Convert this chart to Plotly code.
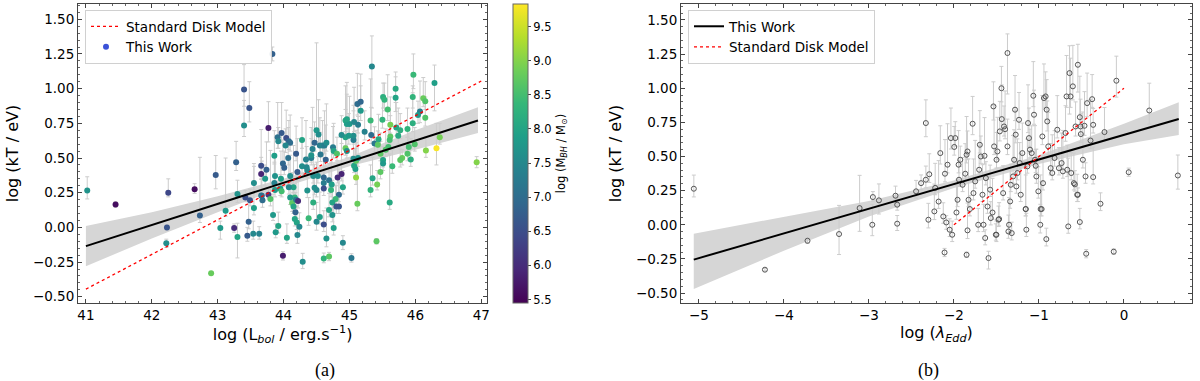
import plotly.graph_objects as go

# ---- panel (a): kT vs bolometric luminosity, coloured by black-hole mass ----
lbol = [41.02, 41.45, 42.25, 42.65, 42.23, 42.22, 42.73, 42.97, 42.90, 43.04,
        43.12, 43.25, 43.30, 43.30, 43.42, 43.49, 43.45, 43.47, 43.55, 43.54,
        43.63, 43.66, 43.68, 43.77, 43.80, 43.84, 43.88, 43.92, 43.99, 44.05,
        43.87, 44.13, 44.17, 44.15, 43.83, 43.40, 43.48, 43.40, 43.77, 43.28,
        43.66, 43.66, 43.74, 43.55, 43.67, 43.72, 43.91, 43.97, 44.04, 43.92,
        44.08, 44.10, 44.03, 44.28, 44.19, 43.86, 43.99, 44.07, 44.01, 43.87,
        43.96, 44.10, 44.21, 44.28, 44.35, 44.34, 44.42, 44.44, 44.42, 44.50,
        44.53, 44.47, 44.55, 44.59, 44.62, 44.65, 44.75, 44.76, 44.81, 44.94,
        44.96, 44.94, 44.88, 44.94, 44.56, 44.64, 44.36, 44.45, 44.52, 44.61,
        44.69, 44.61, 44.50, 44.61, 44.73, 44.82, 44.88, 44.90, 44.72, 44.84,
        44.79, 44.74, 44.84, 44.69, 44.74, 44.55, 44.50, 44.61, 44.76, 44.65,
        44.90, 44.69, 44.61, 44.29, 44.18, 44.15, 44.19, 44.22, 44.10, 44.17,
        44.20, 44.24, 44.21, 44.38, 44.45, 44.47, 44.36, 44.08, 43.95, 43.86,
        43.97, 45.34, 46.29, 45.97, 45.70, 45.70, 45.51, 45.53, 45.96, 46.12,
        46.15, 45.58, 45.32, 45.50, 45.62, 45.71, 45.77, 45.88, 45.96, 46.07,
        46.04, 46.15, 46.37, 46.32, 46.16, 46.93, 45.99, 45.90, 45.93, 45.88,
        45.80, 45.77, 45.74, 45.62, 45.61, 45.59, 45.55, 45.65, 45.51, 45.51,
        45.47, 45.47, 45.42, 45.35, 45.32, 45.61, 45.41, 45.03, 45.12, 45.10,
        45.09, 45.07, 45.10, 45.13, 45.06, 44.96, 45.06, 45.06, 44.99, 45.00,
        45.07, 45.13, 44.96, 45.12, 45.17, 45.17, 45.23, 45.33, 45.38, 45.44,
        45.43, 44.80]
kt_a = [0.265, 0.165, 0.25, 0.275, 0.00, -0.115, 0.085, 0.378, -0.33, -0.005,
        0.12, -0.005, -0.07, 0.24, 0.215, 0.195, -0.06, 0.04, 0.14, -0.045,
        -0.045, 0.23, 0.195, 0.235, 0.205, 0.09, -0.035, 0.01, -0.205, -0.075,
        0.27, 0.175, 0.215, 0.29, 1.25, 0.993, 0.86, 0.735, 0.716, 0.47,
        0.445, 0.385, 0.416, 0.32, 0.228, 0.35, 0.65, 0.68, 0.645, 0.62,
        0.62, 0.61, 0.59, 0.63, 0.53, 0.517, 0.46, 0.50, 0.43, 0.37,
        0.35, 0.37, 0.40, 0.44, 0.433, 0.49, 0.50, 0.565, 0.52, 0.70,
        0.67, 0.61, 0.59, 0.59, 0.59, 0.61, 0.577, 0.55, 0.53, 0.77,
        0.745, 0.65, 0.665, 0.57, 0.525, 0.488, 0.41, 0.37, 0.37, 0.36,
        0.34, 0.32, 0.27, 0.28, 0.31, 0.36, 0.385, 0.29, 0.27, 0.235,
        0.205, 0.18, 0.15, 0.126, 0.09, 0.075, 0.04, 0.02, -0.005, -0.08,
        -0.11, -0.21, -0.225, -0.247, 0.11, 0.15, 0.20, 0.19, 0.215, 0.06,
        0.035, 0.005, -0.055, 0.065, 0.18, 0.285, 0.265, 0.29, 0.28, 0.32,
        0.26, 1.16, 1.04, 1.10, 1.00, 0.935, 0.94, 0.92, 0.94, 0.93,
        0.91, 0.85, 0.77, 0.775, 0.74, 0.72, 0.70, 0.71, 0.75, 0.835,
        0.81, 0.79, 0.65, 0.57, 0.555, 0.47, 0.60, 0.58, 0.49, 0.53,
        0.50, 0.485, 0.66, 0.655, 0.63, 0.58, 0.56, 0.44, 0.485, 0.46,
        0.53, 0.40, 0.31, 0.355, 0.27, 0.18, -0.10, -0.22, 0.17, 0.36,
        0.42, 0.445, 0.48, 0.50, 0.495, 0.55, 0.63, 0.66, 0.66, 0.745,
        0.76, 0.74, 0.78, 0.89, 0.84, 0.905, 0.69, 0.665, 0.605, 0.635,
        0.595, 0.15]
kt_a_hi = [0.10, 0.02, 0.10, 0.04, 0.02, 0.03, 0.42, 0.14, 0.01, 0.05,
           0.38, 0.03, 0.10, 0.10, 0.05, 0.08, 0.06, 0.20, 0.30, 0.09,
           0.05, 0.12, 0.06, 0.04, 0.35, 0.15, 0.06, 0.10, 0.03, 0.10,
           0.25, 0.22, 0.10, 0.30, 0.05, 0.18, 0.19, 0.18, 0.19, 0.15,
           0.26, 0.12, 0.20, 0.14, 0.25, 0.10, 0.25, 0.22, 0.20, 0.10,
           0.15, 0.20, 0.12, 0.16, 0.20, 0.18, 0.17, 0.22, 0.12, 0.14,
           0.20, 0.15, 0.24, 0.20, 0.15, 0.28, 0.22, 0.30, 0.12, 0.63,
           0.25, 0.15, 0.20, 0.18, 0.25, 0.28, 0.15, 0.20, 0.12, 0.25,
           0.30, 0.20, 0.14, 0.10, 0.16, 0.25, 0.10, 0.18, 0.14, 0.22,
           0.12, 0.18, 0.20, 0.15, 0.25, 0.10, 0.30, 0.12, 0.20, 0.18,
           0.10, 0.16, 0.25, 0.12, 0.20, 0.18, 0.14, 0.10, 0.15, 0.22,
           0.05, 0.03, 0.04, 0.06, 0.14, 0.10, 0.20, 0.15, 0.12, 0.08,
           0.12, 0.10, 0.12, 0.15, 0.20, 0.17, 0.12, 0.20, 0.10, 0.15,
           0.08, 0.22, 0.13, 0.15, 0.12, 0.15, 0.10, 0.12, 0.08, 0.15,
           0.14, 0.25, 0.30, 0.15, 0.20, 0.18, 0.12, 0.15, 0.22, 0.22,
           0.10, 0.15, 0.10, 0.18, 0.10, 0.04, 0.12, 0.10, 0.15, 0.12,
           0.06, 0.08, 0.20, 0.15, 0.10, 0.12, 0.15, 0.12, 0.10, 0.12,
           0.15, 0.22, 0.10, 0.15, 0.18, 0.35, 0.02, 0.03, 0.32, 0.25,
           0.15, 0.12, 0.22, 0.30, 0.14, 0.12, 0.25, 0.18, 0.16, 0.20,
           0.25, 0.15, 0.18, 0.22, 0.18, 0.20, 0.15, 0.20, 0.12, 0.18,
           0.10, 0.15]
kt_a_lo = [0.06, 0.02, 0.03, 0.03, 0.02, 0.03, 0.05, 0.10, 0.01, 0.08,
           0.04, 0.03, 0.15, 0.06, 0.03, 0.04, 0.04, 0.05, 0.05, 0.04,
           0.04, 0.04, 0.05, 0.03, 0.05, 0.04, 0.04, 0.05, 0.03, 0.04,
           0.05, 0.06, 0.04, 0.04, 0.05, 0.12, 0.10, 0.08, 0.10, 0.06,
           0.05, 0.04, 0.06, 0.05, 0.05, 0.05, 0.08, 0.07, 0.06, 0.05,
           0.06, 0.06, 0.05, 0.06, 0.05, 0.06, 0.05, 0.05, 0.05, 0.05,
           0.05, 0.05, 0.06, 0.05, 0.05, 0.06, 0.05, 0.06, 0.05, 0.08,
           0.07, 0.06, 0.05, 0.05, 0.06, 0.06, 0.05, 0.05, 0.05, 0.08,
           0.07, 0.06, 0.06, 0.05, 0.05, 0.05, 0.05, 0.05, 0.05, 0.05,
           0.05, 0.05, 0.05, 0.05, 0.05, 0.04, 0.05, 0.05, 0.05, 0.05,
           0.05, 0.05, 0.05, 0.05, 0.05, 0.05, 0.06, 0.05, 0.05, 0.06,
           0.05, 0.03, 0.03, 0.05, 0.05, 0.05, 0.05, 0.05, 0.05, 0.05,
           0.05, 0.06, 0.06, 0.05, 0.05, 0.05, 0.05, 0.05, 0.05, 0.05,
           0.04, 0.30, 0.20, 0.10, 0.10, 0.10, 0.08, 0.08, 0.08, 0.06,
           0.06, 0.08, 0.10, 0.06, 0.06, 0.06, 0.06, 0.06, 0.06, 0.08,
           0.06, 0.06, 0.05, 0.12, 0.05, 0.04, 0.05, 0.05, 0.05, 0.05,
           0.05, 0.05, 0.06, 0.06, 0.06, 0.06, 0.05, 0.05, 0.05, 0.05,
           0.05, 0.05, 0.04, 0.05, 0.05, 0.05, 0.02, 0.03, 0.05, 0.05,
           0.05, 0.05, 0.05, 0.06, 0.05, 0.05, 0.06, 0.06, 0.06, 0.07,
           0.07, 0.06, 0.07, 0.08, 0.07, 0.08, 0.06, 0.06, 0.06, 0.06,
           0.05, 0.05]
mbh = [7.7, 5.6, 6.4, 5.6, 6.6, 7.6, 6.8, 6.7, 8.8, 7.8,
       7.8, 6.0, 8.0, 7.7, 6.5, 6.6, 6.7, 6.8, 7.9, 7.5,
       7.4, 7.3, 7.0, 6.2, 8.6, 7.8, 7.8, 8.0, 5.8, 8.0,
       7.8, 8.7, 8.3, 8.0, 6.8, 6.6, 6.6, 7.6, 5.8, 6.8,
       6.5, 5.9, 6.8, 7.6, 7.0, 7.8, 7.1, 6.7, 6.5, 7.5,
       6.9, 7.0, 7.5, 8.0, 6.7, 7.9, 6.9, 7.1, 6.8, 7.7,
       7.9, 7.6, 6.7, 7.6, 7.5, 7.4, 7.3, 7.4, 7.7, 7.8,
       7.6, 6.9, 7.3, 7.5, 7.3, 7.6, 7.3, 8.0, 8.6, 8.1,
       7.9, 8.0, 7.6, 8.8, 7.2, 6.8, 7.5, 7.6, 7.6, 6.9,
       7.1, 7.3, 7.5, 6.5, 7.9, 6.0, 5.9, 8.0, 8.3, 7.0,
       8.4, 8.0, 6.6, 8.0, 7.7, 7.9, 7.5, 6.5, 7.9, 7.7,
       7.5, 8.7, 8.3, 7.6, 6.8, 8.0, 7.3, 6.0, 7.8, 8.0,
       8.0, 7.5, 7.5, 8.4, 8.2, 7.6, 7.7, 7.5, 7.9, 7.4,
       8.5, 7.5, 7.9, 8.4, 8.1, 8.0, 8.2, 8.3, 8.3, 8.8,
       8.6, 8.5, 8.4, 8.3, 8.9, 8.0, 8.2, 8.3, 8.2, 7.3,
       7.8, 8.6, 8.9, 9.8, 9.0, 9.0, 8.6, 8.5, 8.2, 8.6,
       8.8, 8.7, 8.1, 8.7, 8.5, 8.5, 8.6, 8.4, 8.0, 7.8,
       8.7, 8.7, 8.9, 8.0, 8.3, 8.1, 8.7, 7.2, 8.8, 9.1,
       7.9, 8.0, 8.7, 7.7, 7.6, 7.7, 7.3, 7.6, 7.8, 7.8,
       7.5, 7.3, 8.0, 7.0, 7.8, 6.9, 7.4, 7.0, 7.2, 8.1,
       8.7, 6.6]

# fit + confidence band, panel (a)
fit_a_x = [41.0, 46.95]
fit_a_y = [-0.135, 0.77]
band_a_x = [41.0, 42.0, 43.0, 44.0, 45.0, 46.0, 46.95]
band_a_hi = [0.01, 0.11, 0.225, 0.35, 0.51, 0.70, 0.865]
band_a_lo = [-0.28, -0.08, 0.11, 0.29, 0.44, 0.56, 0.68]
disk_a_x = [41.0, 47.0]
disk_a_y = [-0.445, 1.055]

# ---- panel (b): kT vs Eddington ratio ----
ledd = [-5.059, -4.223, -3.722, -3.351, -3.109, -2.96, -2.953, -2.882, -2.687, -2.667,
        -2.667, -2.445, -2.386, -2.33, -2.33, -2.30, -2.29, -2.23, -2.22, -2.18,
        -2.16, -2.125, -2.105, -2.09, -2.11, -2.075, -2.05, -2.035, -2.02, -1.996,
        -1.984, -1.97, -1.957, -1.945, -1.925, -1.94, -1.898, -1.867, -1.851, -1.84,
        -1.851, -1.84, -1.828, -1.812, -1.78, -1.77, -1.75, -1.714, -1.703, -1.695,
        -1.683, -1.664, -1.652, -1.632, -1.64, -1.624, -1.605, -1.593, -1.574, -1.566,
        -1.546, -1.535, -1.527, -1.507, -1.499, -1.488, -1.476, -1.46, -1.441, -1.437,
        -1.421, -1.41, -1.398, -1.37, -1.37, -1.359, -1.351, -1.339, -1.331, -1.32,
        -1.304, -1.292, -1.281, -1.273, -1.265, -1.253, -1.234, -1.226, -1.214, -1.195,
        -1.156, -1.148, -1.136, -1.128, -1.117, -1.105, -1.085, -1.066, -1.058, -1.046,
        -1.038, -1.03, -1.007, -0.984, -0.98, -0.96, -0.952, -0.941, -0.921, -0.913,
        -0.909, -0.902, -0.89, -0.862, -0.843, -0.816, -0.784, -0.765, -0.733, -0.718,
        -0.687, -0.675, -0.667, -0.655, -0.64, -0.628, -0.62, -0.601, -0.589, -0.542,
        -0.569, -0.519, -0.511, -0.507, -0.464, -0.433, -0.374, -0.362, -0.393, -0.483,
        -0.452, -0.362, -0.229, -0.089, 0.056, 0.298, 0.634, -0.55, -0.542, -0.519,
        -0.444, -0.276, -0.12, -0.577, -0.968, -1.155, -1.468, -1.50]
kt_b = [0.264, -0.329, -0.117, -0.068, 0.122, 0.0, 0.203, 0.179, 0.213, 0.147,
        0.008, 0.245, 0.305, 0.745, 0.33, 0.037, 0.37, 0.098, 0.27, 0.17,
        0.525, 0.061, 0.374, 0.017, -0.203, 0.44, -0.036, 0.635, -0.073, 0.57,
        0.635, 0.09, 0.183, 0.44, 0.476, 0.33, 0.293, 0.374, 0.513, 0.537,
        -0.22, -0.041, 0.183, 0.115, 0.74, 0.232, 0.318, 0.0, 0.403, 0.586,
        0.5, 0.22, 0.0, -0.097, 0.505, 0.342, 0.134, -0.244, 0.257, 0.049,
        0.09, 0.867, 0.574, -0.073, 0.476, 0.537, 0.037, 0.684, 1.0, 0.774,
        0.232, 0.72, 0.70, 1.258, 0.574, -0.049, 0.0, 0.171, 0.293, -0.061,
        0.354, 0.476, 0.843, 0.66, 0.281, 0.379, 0.769, 0.452, 0.22, 0.525,
        0.115, -0.036, 0.428, 0.745, 0.635, 0.55, 0.525, 0.945, 0.806, 0.476,
        0.432, 0.354, 0.245, 0.0, 0.115, 0.647, 0.305, 0.928, 0.94, -0.105,
        0.843, 0.757, 0.574, 0.415, 0.379, 0.489, 0.696, 0.415, 0.452, 0.391,
        0.672, 0.94, 0.403, -0.012, 1.111, 0.94, 0.379, 1.014, 0.305, 1.172,
        0.72, 0.788, 0.72, 0.664, 0.725, 0.891, 0.92, 0.732, 0.617, 0.476,
        0.354, 0.349, 0.679, 1.055, 0.385, 0.837, 0.361, 0.22, 0.22, 0.02,
        -0.212, 0.154, -0.197, 0.296, 0.115, 0.115, 0.042, -0.073]
kt_b_hi = [0.10, 0.01, 0.02, 0.21, 0.24, 0.15, 0.04, 0.12, 0.07, 0.05,
           0.06, 0.08, 0.06, 0.17, 0.10, 0.12, 0.15, 0.20, 0.18, 0.30,
           0.20, 0.10, 0.25, 0.05, 0.03, 0.30, 0.08, 0.22, 0.10, 0.15,
           0.12, 0.20, 0.15, 0.25, 0.10, 0.14, 0.20, 0.22, 0.28, 0.15,
           0.02, 0.20, 0.30, 0.10, 0.20, 0.25, 0.30, 0.12, 0.18, 0.25,
           0.15, 0.22, 0.15, 0.06, 0.28, 0.12, 0.20, 0.05, 0.18, 0.12,
           0.25, 0.18, 0.30, 0.08, 0.20, 0.25, 0.10, 0.22, 0.16, 0.25,
           0.20, 0.15, 0.28, 0.14, 0.20, 0.12, 0.20, 0.25, 0.15, 0.08,
           0.30, 0.22, 0.25, 0.18, 0.20, 0.25, 0.20, 0.15, 0.30, 0.22,
           0.35, 0.12, 0.20, 0.28, 0.22, 0.15, 0.20, 0.25, 0.18, 0.25,
           0.12, 0.20, 0.18, 0.15, 0.25, 0.30, 0.20, 0.25, 0.18, 0.08,
           0.22, 0.15, 0.25, 0.18, 0.28, 0.20, 0.25, 0.15, 0.22, 0.30,
           0.20, 0.30, 0.18, 0.50, 0.20, 0.28, 0.15, 0.30, 0.22, 0.15,
           0.18, 0.30, 0.20, 0.15, 0.25, 0.22, 0.18, 0.12, 0.30, 0.35,
           0.10, 0.22, 0.18, 0.18, 0.03, 0.20, 0.15, 0.15, 0.05, 0.10,
           0.03, 0.08, 0.02, 0.10, 0.20, 0.25, 0.12, 0.10]
kt_b_lo = [0.06, 0.01, 0.02, 0.15, 0.17, 0.08, 0.03, 0.10, 0.05, 0.04,
           0.05, 0.05, 0.05, 0.10, 0.06, 0.06, 0.06, 0.06, 0.05, 0.05,
           0.08, 0.05, 0.06, 0.05, 0.03, 0.06, 0.05, 0.08, 0.05, 0.06,
           0.06, 0.05, 0.05, 0.06, 0.05, 0.05, 0.05, 0.05, 0.06, 0.06,
           0.02, 0.06, 0.05, 0.05, 0.08, 0.05, 0.05, 0.05, 0.05, 0.06,
           0.05, 0.05, 0.05, 0.05, 0.06, 0.05, 0.05, 0.08, 0.05, 0.05,
           0.05, 0.10, 0.06, 0.04, 0.06, 0.06, 0.05, 0.07, 0.10, 0.08,
           0.05, 0.07, 0.07, 0.30, 0.06, 0.05, 0.06, 0.05, 0.05, 0.05,
           0.05, 0.06, 0.08, 0.06, 0.05, 0.05, 0.07, 0.05, 0.05, 0.06,
           0.05, 0.05, 0.05, 0.07, 0.06, 0.06, 0.06, 0.08, 0.07, 0.06,
           0.05, 0.05, 0.05, 0.06, 0.05, 0.06, 0.05, 0.08, 0.08, 0.05,
           0.07, 0.07, 0.06, 0.05, 0.05, 0.06, 0.06, 0.05, 0.05, 0.05,
           0.06, 0.08, 0.05, 0.05, 0.30, 0.08, 0.05, 0.10, 0.05, 0.20,
           0.07, 0.07, 0.06, 0.06, 0.07, 0.10, 0.06, 0.06, 0.06, 0.06,
           0.05, 0.05, 0.06, 0.12, 0.03, 0.10, 0.10, 0.05, 0.05, 0.05,
           0.03, 0.05, 0.02, 0.05, 0.05, 0.05, 0.05, 0.05]

fit_b_x = [-5.06, 0.645]
fit_b_y = [-0.255, 0.775]
band_b_x = [-5.06, -4.0, -3.0, -2.0, -1.0, 0.0, 0.645]
band_b_hi = [-0.066, 0.06, 0.175, 0.325, 0.51, 0.74, 0.897]
band_b_lo = [-0.47, -0.19, 0.06, 0.27, 0.445, 0.59, 0.657]
disk_b_x = [-2.0, 0.0]
disk_b_y = [0.0, 1.0]

ERR_COL = "#cccccc"
BAND_COL = "#d6d6d6"

fig = go.Figure()

# panel (a)
fig.add_trace(go.Scatter(x=band_a_x + band_a_x[::-1], y=band_a_hi + band_a_lo[::-1],
                         fill="toself", fillcolor=BAND_COL, line=dict(width=0),
                         mode="lines", hoverinfo="skip", showlegend=False,
                         xaxis="x", yaxis="y"))
fig.add_trace(go.Scatter(x=lbol, y=kt_a, mode="markers", showlegend=False,
                         error_y=dict(type="data", symmetric=False, array=kt_a_hi,
                                      arrayminus=kt_a_lo, color=ERR_COL,
                                      thickness=1, width=2),
                         marker=dict(size=6, color=mbh, colorscale="Viridis",
                                     cmin=5.45, cmax=9.83, line=dict(width=0),
                                     colorbar=dict(x=513 / 1200, xanchor="left",
                                                   xpad=0, ypad=0,
                                                   thickness=15, len=0.7848,
                                                   lenmode="fraction", y=0.2047,
                                                   yanchor="bottom", outlinewidth=1,
                                                   outlinecolor="#666",
                                                   tickvals=[5.5, 6.0, 6.5, 7.0, 7.5, 8.0, 8.5, 9.0, 9.5],
                                                   tickformat=".1f", ticks="outside",
                                                   ticklen=3, tickfont=dict(size=11.5),
                                                   title=dict(text="log (M<sub><i>BH</i></sub> / M<sub>⊙</sub>)",
                                                              side="right",
                                                              font=dict(size=11.5)))),
                         xaxis="x", yaxis="y"))
fig.add_trace(go.Scatter(x=fit_a_x, y=fit_a_y, mode="lines", showlegend=False,
                         line=dict(color="black", width=2), xaxis="x", yaxis="y"))
fig.add_trace(go.Scatter(x=disk_a_x, y=disk_a_y, mode="lines", name="Standard Disk Model",
                         line=dict(color="red", width=1.3, dash="dot"),
                         legend="legend", legendrank=1, xaxis="x", yaxis="y"))
fig.add_trace(go.Scatter(x=[None], y=[None], mode="markers", name="This Work",
                         marker=dict(size=6, color="#3b52d8"),
                         legend="legend", legendrank=2, xaxis="x", yaxis="y"))

# panel (b)
fig.add_trace(go.Scatter(x=band_b_x + band_b_x[::-1], y=band_b_hi + band_b_lo[::-1],
                         fill="toself", fillcolor=BAND_COL, line=dict(width=0),
                         mode="lines", hoverinfo="skip", showlegend=False,
                         xaxis="x2", yaxis="y2"))
fig.add_trace(go.Scatter(x=ledd, y=kt_b, mode="markers", showlegend=False,
                         error_y=dict(type="data", symmetric=False, array=kt_b_hi,
                                      arrayminus=kt_b_lo, color=ERR_COL,
                                      thickness=1, width=2),
                         marker=dict(size=5, symbol="circle-open",
                                     color="#555", line=dict(width=1, color="#555")),
                         xaxis="x2", yaxis="y2"))
fig.add_trace(go.Scatter(x=fit_b_x, y=fit_b_y, mode="lines", name="This Work",
                         line=dict(color="black", width=2),
                         legend="legend2", legendrank=1, xaxis="x2", yaxis="y2"))
fig.add_trace(go.Scatter(x=disk_b_x, y=disk_b_y, mode="lines", name="Standard Disk Model",
                         line=dict(color="red", width=1.3, dash="dot"),
                         legend="legend2", legendrank=2, xaxis="x2", yaxis="y2"))

ydom = [0.2047, 0.9895]
axis_style = dict(showline=True, linecolor="#444", linewidth=1, mirror="allticks",
                  ticks="inside", ticklen=4, tickcolor="#444", showgrid=False,
                  zeroline=False, automargin=False,
                  tickfont=dict(size=13.5, color="black"))
ymin = dict(dtick=0.05, ticks="inside", ticklen=2, tickcolor="#666")
xmin = dict(dtick=0.2, ticks="inside", ticklen=2, tickcolor="#666")
ytitle = dict(text="log (kT / eV)", font=dict(size=16), standoff=10)

legend_style = dict(font=dict(size=13.5, color="black"), bgcolor="rgba(255,255,255,0.9)",
                    bordercolor="#d0d0d0", borderwidth=1, xanchor="left", yanchor="top",
                    tracegroupgap=0, itemwidth=30)

fig.update_layout(
    width=1200, height=381,
    margin=dict(l=0, r=0, t=0, b=0, autoexpand=False),
    paper_bgcolor="white", plot_bgcolor="white",
    font=dict(family="DejaVu Sans", color="black"),
    xaxis=dict(domain=[0.065, 0.406], range=[40.88, 47.09], anchor="y",
               tick0=41, dtick=1, minor=xmin,
               title=dict(text="log (L<sub><i>bol</i></sub> / erg.s<sup>−1</sup>)",
                          font=dict(size=16), standoff=4), **axis_style),
    yaxis=dict(domain=ydom, range=[-0.545, 1.61], anchor="x", tick0=0, dtick=0.25,
               tickformat=".2f", minor=ymin, title=ytitle, **axis_style),
    xaxis2=dict(domain=[0.5675, 0.9933], range=[-5.21, 0.80], anchor="y2",
                tick0=0, dtick=1, minor=xmin,
                title=dict(text="log (<i>λ<sub>Edd</sub></i>)", font=dict(size=16),
                           standoff=4), **axis_style),
    yaxis2=dict(domain=ydom, range=[-0.573, 1.617], anchor="x2", tick0=0, dtick=0.25,
                tickformat=".2f", minor=ymin, title=ytitle, **axis_style),
    legend=dict(x=85 / 1200, y=1 - 10 / 381, **legend_style),
    legend2=dict(x=688 / 1200, y=1 - 10 / 381, **legend_style),
    annotations=[
        dict(text="(a)", x=325 / 1200, y=1 - 370 / 381, xref="paper", yref="paper",
             xanchor="center", yanchor="middle", showarrow=False,
             font=dict(family="Liberation Serif", size=18)),
        dict(text="(b)", x=928 / 1200, y=1 - 370 / 381, xref="paper", yref="paper",
             xanchor="center", yanchor="middle", showarrow=False,
             font=dict(family="Liberation Serif", size=18)),
    ],
)

# drop the default page margin so the figure sits at the window's top-left corner
fig.write_html("out.html", config={"displayModeBar": False},
               post_script="document.body.style.margin='0';document.body.style.padding='0';")
